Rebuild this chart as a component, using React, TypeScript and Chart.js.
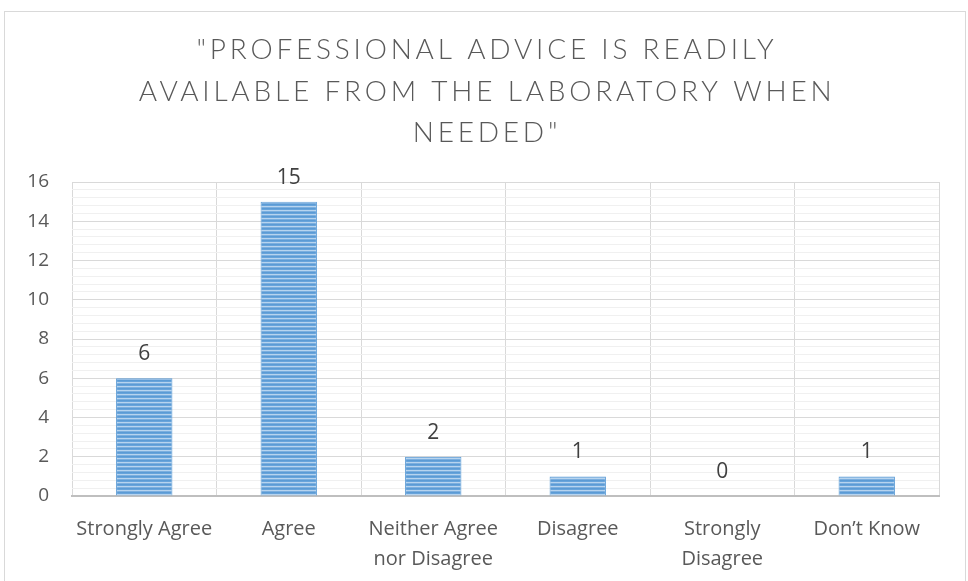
import React, { useEffect, useRef } from "react";
import { Chart, registerables } from "chart.js";

Chart.register(...registerables);

const titleLines = ['"PROFESSIONAL ADVICE IS READILY', "AVAILABLE FROM THE LABORATORY WHEN", 'NEEDED"'];
const categories: (string | string[])[] = [
  "Strongly Agree",
  "Agree",
  ["Neither Agree", "nor Disagree"],
  "Disagree",
  ["Strongly", "Disagree"],
  "Don\u2019t Know",
];
const responses = [6, 15, 2, 1, 0, 1];
const yMin = 0;
const yMax = 16;
const yMajorStep = 2;
const yMinorStep = 0.4;

const FONT = "'Open Sans', Lato, sans-serif";
const TITLE_FONT = "Lato, 'Open Sans', sans-serif";

function makePattern(): CanvasPattern | string {
  const c = document.createElement("canvas");
  c.width = 1;
  c.height = 4;
  const g = c.getContext("2d");
  if (!g) return "#5b9bd5";
  const rows = ["#5b9bd5", "#68a4db", "#b7d4ef", "#7cafdf"];
  rows.forEach((col, i) => {
    g.fillStyle = col;
    g.fillRect(0, i, 1, 1);
  });
  const p = g.createPattern(c, "repeat");
  return p || "#5b9bd5";
}

const titlePlugin = {
  id: "spacedTitle",
  afterDraw(chart: any) {
    const ctx = chart.ctx as CanvasRenderingContext2D;
    ctx.save();
    ctx.font = `300 28px ${TITLE_FONT}`;
    ctx.fillStyle = "#595959";
    ctx.textAlign = "center";
    ctx.textBaseline = "middle";
    (ctx as any).letterSpacing = "3.8px";
    const ys = [50, 92, 133];
    titleLines.forEach((line, i) => {
      ctx.fillText(line, 487, ys[i]);
    });
    ctx.restore();
  },
};

const labelPlugin = {
  id: "barValueLabels",
  afterDatasetsDraw(chart: any) {
    const ctx = chart.ctx as CanvasRenderingContext2D;
    const meta = chart.getDatasetMeta(0);
    const data = chart.data.datasets[0].data as number[];
    ctx.save();
    ctx.font = `21px ${FONT}`;
    ctx.fillStyle = "#404040";
    ctx.textAlign = "center";
    ctx.textBaseline = "alphabetic";
    meta.data.forEach((bar: any, i: number) => {
      ctx.fillText(String(data[i]), bar.x, bar.y - 18);
    });
    ctx.restore();
  },
};

const isMajor = (v: number) => Math.abs(v / yMajorStep - Math.round(v / yMajorStep)) < 1e-6;

export default function App() {
  const ref = useRef<HTMLCanvasElement | null>(null);

  useEffect(() => {
    document.body.style.margin = "0";
    if (!ref.current) return;
    const chart = new Chart(ref.current, {
      type: "bar",
      data: {
        labels: categories,
        datasets: [
          {
            data: responses,
            backgroundColor: makePattern() as any,
            borderColor: "#5b9bd5",
            borderWidth: 1,
            categoryPercentage: 1,
            barPercentage: 0.39,
          },
        ],
      },
      plugins: [titlePlugin, labelPlugin],
      options: {
        animation: false,
        responsive: false,
        maintainAspectRatio: false,
        layout: { padding: { top: 182, right: 29, left: 0, bottom: 0 } },
        plugins: {
          legend: { display: false },
          title: { display: false },
          tooltip: { enabled: false },
        },
        scales: {
          x: {
            grid: { color: "#d9d9d9", lineWidth: 1, offset: true, drawTicks: false },
            border: { color: "#bfbfbf", width: 2 },
            ticks: {
              color: "#595959",
              font: { family: FONT, size: 20, lineHeight: 1.5 },
              padding: 18,
              maxRotation: 0,
              autoSkip: false,
            },
            afterFit(scale: any) {
              scale.height = 85;
            },
          },
          y: {
            min: yMin,
            max: yMax,
            grid: {
              color: (c: any) => (isMajor(c.tick?.value ?? 0) ? "#d9d9d9" : "#f0f0f0"),
              lineWidth: 1,
              drawTicks: false,
            },
            border: { display: false },
            ticks: {
              stepSize: yMinorStep,
              autoSkip: false,
              color: "#595959",
              font: { family: FONT, size: 19 },
              padding: 23,
              callback: (v: any) => (isMajor(Number(v)) ? String(Math.round(Number(v))) : ""),
            },
            afterFit(scale: any) {
              scale.width = 72;
            },
          },
        },
      },
    });
    return () => chart.destroy();
  }, []);

  return (
    <div style={{ position: "relative", width: 968, height: 581, background: "#fff" }}>
      <div
        style={{
          position: "absolute",
          left: 4,
          top: 11,
          width: 962,
          height: 580,
          border: "1px solid #d9d9d9",
          boxSizing: "border-box",
        }}
      />
      <canvas ref={ref} width={968} height={581} style={{ position: "absolute", left: 0, top: 0 }} />
    </div>
  );
}
